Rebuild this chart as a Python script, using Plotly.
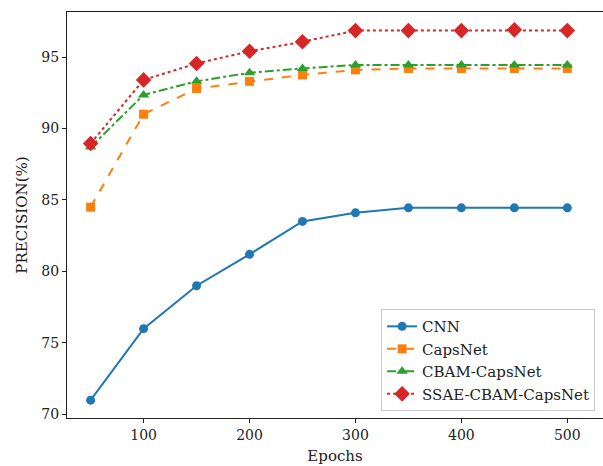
import plotly.graph_objects as go

epochs = [50, 100, 150, 200, 250, 300, 350, 400, 450, 500]
cnn = [71.0, 76.0, 79.0, 81.2, 83.5, 84.1, 84.45, 84.45, 84.45, 84.45]
capsnet = [84.5, 91.0, 92.8, 93.3, 93.75, 94.1, 94.2, 94.2, 94.2, 94.2]
cbam_capsnet = [88.7, 92.35, 93.3, 93.9, 94.2, 94.45, 94.45, 94.45, 94.45, 94.45]
ssae_cbam_capsnet = [88.95, 93.4, 94.55, 95.4, 96.07, 96.85, 96.85, 96.85, 96.9, 96.85]
y_ticks = [70, 75, 80, 85, 90, 95]
x_ticks = [100, 200, 300, 400, 500]

series = [
    ("CNN", cnn, "#1f77b4", "solid", "circle", 9),
    ("CapsNet", capsnet, "#ff7f0e", "dash", "square", 9),
    ("CBAM-CapsNet", cbam_capsnet, "#2ca02c", "dashdot", "triangle-up", 10),
    ("SSAE-CBAM-CapsNet", ssae_cbam_capsnet, "#d62728", "dot", "diamond", 12),
]

fig = go.Figure()
for name, vals, color, dash, sym, size in series:
    fig.add_trace(go.Scatter(
        x=epochs, y=vals, name=name, mode="lines+markers",
        line=dict(color=color, width=2, dash=dash),
        marker=dict(symbol=sym, size=size, color=color),
    ))

font_family = "DejaVu Serif"
fig.update_layout(
    width=603, height=466,
    margin=dict(l=67, r=0, t=12, b=48),
    paper_bgcolor="white", plot_bgcolor="white",
    font=dict(family=font_family, size=14, color="#222"),
    showlegend=True,
    legend=dict(
        x=0.586, y=0.017, xanchor="left", yanchor="bottom",
        bgcolor="rgba(255,255,255,0.85)", bordercolor="#cccccc", borderwidth=1,
        font=dict(family=font_family, size=15, color="#222"),
        tracegroupgap=0, itemwidth=30,
    ),
    xaxis=dict(
        range=[27.7, 533.7], tickvals=x_ticks, showgrid=False, zeroline=False,
        showline=True, linecolor="#222", linewidth=1, mirror=True,
        ticks="outside", ticklen=4, tickcolor="#222",
        tickfont=dict(family=font_family, size=14),
        title=dict(text="Epochs", standoff=8, font=dict(family=font_family, size=15)),
    ),
    yaxis=dict(
        range=[69.75, 98.15], tickvals=y_ticks, showgrid=False, zeroline=False,
        showline=True, linecolor="#222", linewidth=1, mirror=False,
        ticks="outside", ticklen=4, tickcolor="#222",
        tickfont=dict(family=font_family, size=14),
        title=dict(text="PRECISION(%)", standoff=10, font=dict(family=font_family, size=15)),
    ),
)

fig.write_html("out.html")
